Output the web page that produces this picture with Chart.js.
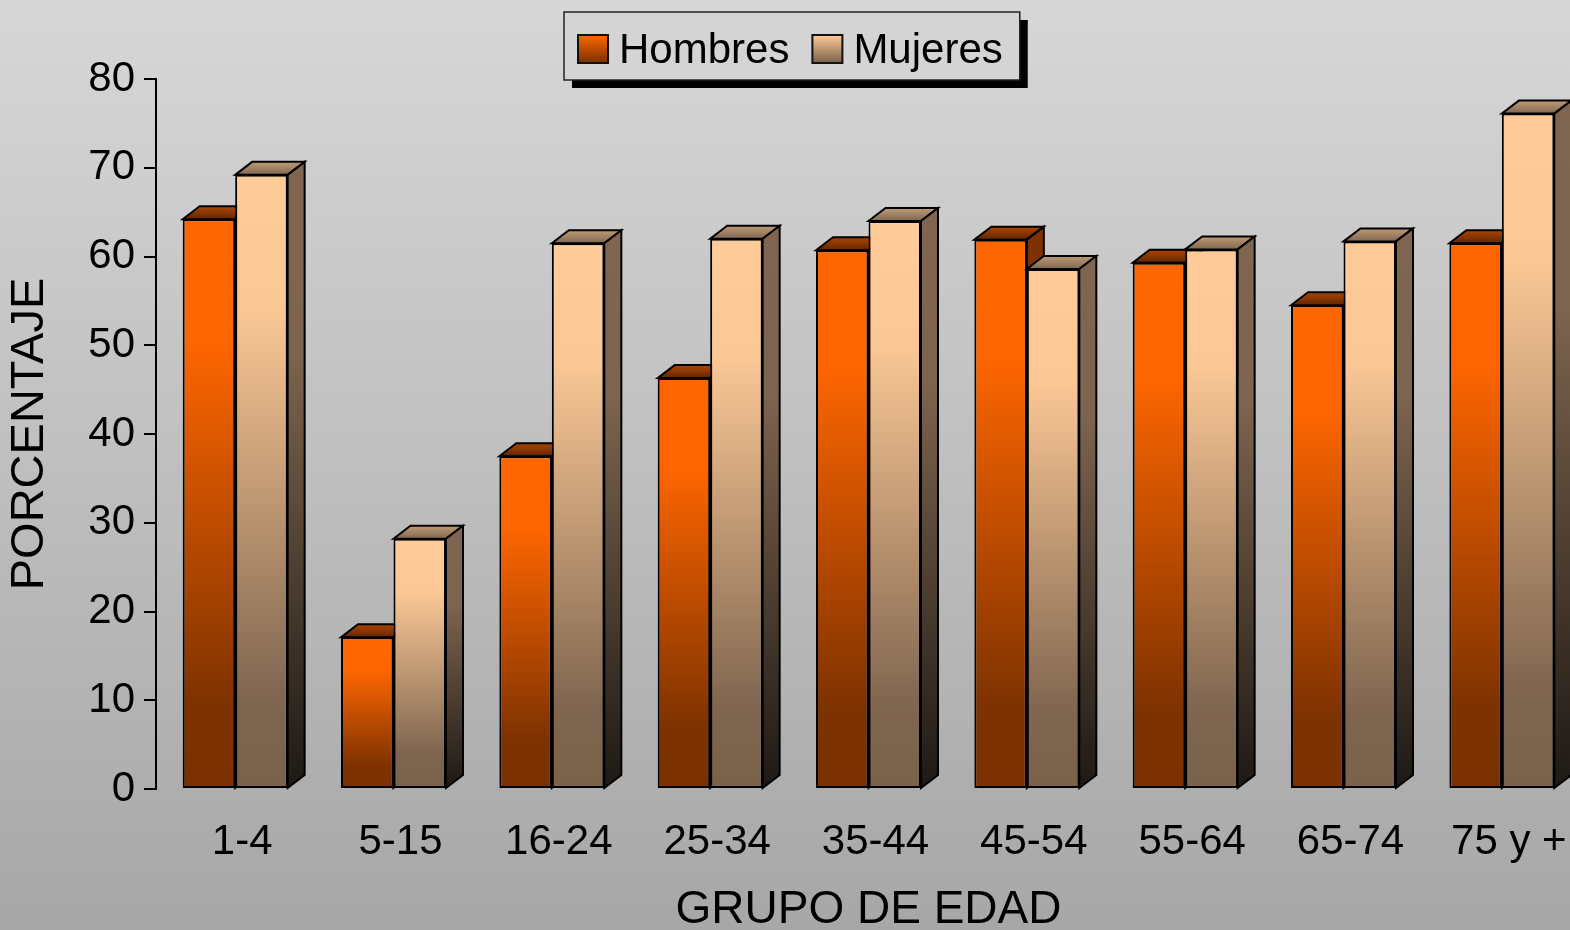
<!DOCTYPE html>
<html><head><meta charset="utf-8">
<script src="https://cdn.jsdelivr.net/npm/chart.js@4"></script>
<style>
html,body{margin:0;padding:0;overflow:hidden;width:1570px;height:930px;}
body{background:linear-gradient(to bottom,#d7d7d7 0%,#a7a7a7 100%);}
#wrap{position:absolute;left:0;top:0;width:1581px;height:930px;}
</style></head><body>
<div id="wrap"><canvas id="c" width="1581" height="930"></canvas></div>
<script>
const categories = ['1-4','5-15','16-24','25-34','35-44','45-54','55-64','65-74','75 y +'];
const hombres = [64.2, 17.1, 37.5, 46.3, 60.7, 61.9, 59.3, 54.5, 61.5];
const mujeres = [69.2, 28.2, 61.5, 62.0, 64.0, 58.6, 60.8, 61.7, 76.1];
const yTicks = [0, 10, 20, 30, 40, 50, 60, 70, 80];
const seriesNames = ['Hombres', 'Mujeres'];
const axisTitleX = 'GRUPO DE EDAD';
const axisTitleY = 'PORCENTAJE';

const FONT = "'Liberation Sans', Arial, sans-serif";
const DX = 17, DY = 13;

function vgrad(ctx, y0, y1, stops) {
  const g = ctx.createLinearGradient(0, y0, 0, y1);
  stops.forEach(([o, c]) => g.addColorStop(o, c));
  return g;
}

const frontStops = [
  [[0, '#ff6600'], [0.22, '#fd6500'], [0.85, '#7e3200'], [1, '#7a3000']],
  [[0, '#ffcc99'], [0.22, '#fac795'], [0.85, '#806650'], [1, '#7a6149']]
];
const faceStops = [
  { top: [[0, '#a84400'], [0.5, '#8a3700'], [1, '#5e2400']],
    side: [[0, '#7e3200'], [0.4, '#7a3000'], [1, '#2a1000']] },
  { top: [[0, '#c09a74'], [0.5, '#a08264'], [1, '#806650']],
    side: [[0, '#806650'], [0.3, '#7d644e'], [1, '#1e1915']] }
];

function frontGrad(i) {
  return (c) => {
    const ch = c.chart;
    if (!ch.chartArea || c.type !== 'data') return frontStops[i][0][1];
    const ys = ch.scales.y;
    const top = ys.getPixelForValue(c.raw);
    const bot = ys.getPixelForValue(0);
    return vgrad(ch.ctx, top, bot, frontStops[i]);
  };
}

function drawFaces(chart, dsIndex) {
  const ctx = chart.ctx;
  const meta = chart.getDatasetMeta(dsIndex);
  const f = faceStops[dsIndex];
  ctx.save();
  ctx.lineWidth = 2;
  ctx.strokeStyle = '#000';
  ctx.lineJoin = 'miter';
  meta.data.forEach(bar => {
    const {x, y, base, width} = bar.getProps(['x', 'y', 'base', 'width'], true);
    const l = x - width / 2, r = x + width / 2;
    ctx.beginPath();
    ctx.moveTo(l, y); ctx.lineTo(l + DX, y - DY); ctx.lineTo(r + DX, y - DY); ctx.lineTo(r, y); ctx.closePath();
    ctx.fillStyle = vgrad(ctx, y - DY, y, f.top); ctx.fill(); ctx.stroke();
    ctx.beginPath();
    ctx.moveTo(r, y); ctx.lineTo(r + DX, y - DY); ctx.lineTo(r + DX, base - DY); ctx.lineTo(r, base); ctx.closePath();
    ctx.fillStyle = vgrad(ctx, y - DY, base, f.side); ctx.fill(); ctx.stroke();
  });
  ctx.restore();
}

const bars3d = {
  id: 'bars3d',
  beforeDatasetsDraw(chart) { drawFaces(chart, 0); },
  afterDatasetsDraw(chart) { drawFaces(chart, 1); }
};

const legendBox = {
  id: 'legendBox',
  afterDraw(chart) {
    const ctx = chart.ctx;
    ctx.save();
    ctx.font = '42px ' + FONT;
    const names = chart.data.datasets.map(d => d.label);
    const widths = names.map(n => ctx.measureText(n).width);
    const mk = 30, mkH = 28, gapMT = 11, gapItem = 23, padL = 14, padR = 17;
    let total = padL + padR;
    widths.forEach((w, i) => { total += mk + gapMT + w + (i < widths.length - 1 ? gapItem : 0); });
    const L = Math.round(chart.width / 2 + 1 - total / 2), T = 12, H = 68;
    ctx.fillStyle = '#000';
    ctx.fillRect(L + 8, T + 8, total, H);
    ctx.fillStyle = '#d4d4d4';
    ctx.fillRect(L, T, total, H);
    ctx.lineWidth = 1.5;
    ctx.strokeStyle = '#222';
    ctx.strokeRect(L, T, total, H);
    let x = L + padL;
    const legStops = [
      [[0, '#ff6600'], [1, '#7a3000']],
      [[0, '#ffcc99'], [1, '#7a6149']]
    ];
    names.forEach((n, i) => {
      const my = 35;
      ctx.fillStyle = vgrad(ctx, my, my + mkH, legStops[i]);
      ctx.fillRect(x, my, mk, mkH);
      ctx.lineWidth = 2; ctx.strokeStyle = '#111';
      ctx.strokeRect(x, my, mk, mkH);
      x += mk + gapMT;
      ctx.fillStyle = '#000';
      ctx.textBaseline = 'alphabetic';
      ctx.textAlign = 'left';
      ctx.fillText(n, x, 63);
      x += widths[i] + gapItem;
    });
    ctx.restore();
  }
};

new Chart(document.getElementById('c'), {
  type: 'bar',
  data: {
    labels: categories,
    datasets: [
      { label: seriesNames[0], data: hombres, backgroundColor: frontGrad(0), borderColor: '#000', borderWidth: 2, borderSkipped: false },
      { label: seriesNames[1], data: mujeres, backgroundColor: frontGrad(1), borderColor: '#000', borderWidth: 2, borderSkipped: false }
    ]
  },
  options: {
    responsive: false,
    animation: false,
    devicePixelRatio: 1,
    layout: { padding: { top: 79, left: 0, right: 0, bottom: 0 } },
    datasets: { bar: { categoryPercentage: 0.663, barPercentage: 1 } },
    plugins: { legend: { display: false }, tooltip: { enabled: false } },
    scales: {
      x: {
        grid: { display: false },
        border: { display: false },
        ticks: { color: '#000', font: { family: FONT, size: 42 }, padding: 20, labelOffset: 7, maxRotation: 0, autoSkip: false },
        title: { display: true, text: axisTitleX, color: '#000', font: { family: FONT, size: 46, lineHeight: 0.84 }, padding: { top: 0, bottom: 0 } },
        afterFit(s) { s.height = 141; }
      },
      y: {
        min: 0, max: 80,
        afterBuildTicks(s) { s.ticks = yTicks.map(v => ({ value: v })); },
        grid: { display: true, drawOnChartArea: false, drawTicks: true, tickLength: 12, tickColor: '#000', lineWidth: 2 },
        border: { display: true, color: '#000', width: 2 },
        ticks: { color: '#000', font: { family: FONT, size: 42 }, padding: 9 },
        title: { display: true, text: axisTitleY, color: '#000', font: { family: FONT, size: 47, lineHeight: 1 }, padding: { top: 7, bottom: 0 } },
        afterFit(s) { s.width = 156; }
      }
    }
  },
  plugins: [bars3d, legendBox]
});
</script>
</body></html>
